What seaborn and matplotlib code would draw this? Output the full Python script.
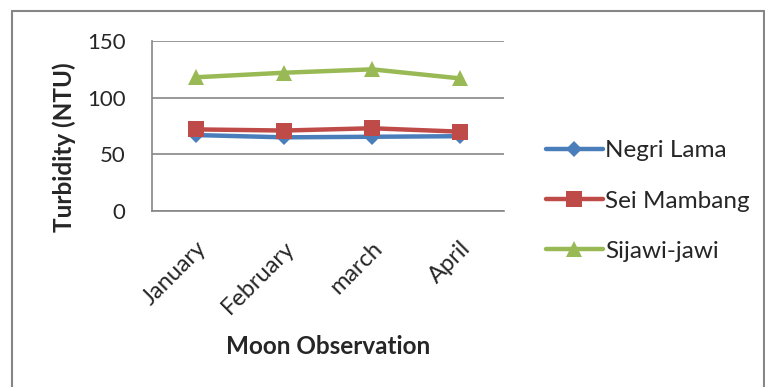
import matplotlib
matplotlib.use("Agg")
import matplotlib.pyplot as plt
import seaborn as sns
import pandas as pd
from matplotlib.lines import Line2D
from matplotlib.ticker import FixedLocator

months = ["January", "February", "march", "April"]
negri_lama = [67, 65, 65.5, 66]
sei_mambang = [72, 71, 73, 70]
sijawi_jawi = [118, 122, 125, 117]
series_names = ["Negri Lama", "Sei Mambang", "Sijawi-jawi"]
yticks = [0, 50, 100, 150]

colors = {"Negri Lama": "#4A7EBB", "Sei Mambang": "#BE4B48", "Sijawi-jawi": "#98B954"}
markers = {"Negri Lama": "D", "Sei Mambang": "s", "Sijawi-jawi": "^"}
msizes = {"Negri Lama": 8, "Sei Mambang": 11, "Sijawi-jawi": 12}

df = pd.DataFrame({
    "Month": months * 3,
    "Turbidity": negri_lama + sei_mambang + sijawi_jawi,
    "Site": [series_names[0]] * 4 + [series_names[1]] * 4 + [series_names[2]] * 4,
})

sns.set_style("white")
plt.rcParams["font.family"] = ["Lato", "DejaVu Sans"]

fig = plt.figure(figsize=(7.65, 3.87), dpi=100)
ax = fig.add_axes([152 / 765, 1 - 211 / 387, (504 - 152) / 765, (211 - 41) / 387])

for name in series_names:
    sub = df[df["Site"] == name]
    sns.lineplot(data=sub, x="Month", y="Turbidity", ax=ax, color=colors[name],
                 marker=markers[name], markersize=msizes[name], markeredgewidth=0,
                 linewidth=3.2, label=name, sort=False)

ax.set_xlim(-0.5, 3.5)
ax.set_ylim(0, 150)
ax.set_yticks(yticks)
ax.set_xticks(range(len(months)))
ax.set_xticklabels(months, rotation=45, ha="right", rotation_mode="anchor", fontsize=17)
ax.xaxis.set_minor_locator(FixedLocator([-0.5, 0.5, 1.5, 2.5, 3.5]))
ax.tick_params(axis="x", which="major", length=0, pad=19)
ax.tick_params(axis="x", which="minor", length=5, color="#868686", width=1.2, direction="out")
ax.tick_params(axis="y", length=6, color="#868686", width=1.2, direction="out", labelsize=16, pad=13)
ax.grid(axis="y", color="#868686", linewidth=1.2)
ax.set_axisbelow(True)
for s in ["top", "right"]:
    ax.spines[s].set_visible(False)
for s in ["left", "bottom"]:
    ax.spines[s].set_color("#868686")
    ax.spines[s].set_linewidth(1.2)

ax.set_ylabel("Turbidity (NTU)", fontsize=17.5, fontweight="bold")
ax.yaxis.set_label_coords((76 - 152) / (504 - 152), (211 - 147) / (211 - 41))
ax.set_xlabel("Moon Observation", fontsize=17.5, fontweight="bold")
ax.xaxis.set_label_coords(0.5, -(347 - 211) / (211 - 41))
ax.xaxis.label.set_va("center")

leg = ax.legend(loc="center left", bbox_to_anchor=(524 / 765, 1 - 201 / 387),
                bbox_transform=fig.transFigure, frameon=False, fontsize=17.5,
                handlelength=2.35, handletextpad=0.1, labelspacing=1.2)

gray = "#868686"
fig.add_artist(Line2D([12 / 765, 12 / 765], [0, 1 - 11 / 387], transform=fig.transFigure, color=gray, lw=1.5))
fig.add_artist(Line2D([12 / 765, 764 / 765], [1 - 11 / 387, 1 - 11 / 387], transform=fig.transFigure, color=gray, lw=1.5))
fig.add_artist(Line2D([764 / 765, 764 / 765], [0, 1 - 11 / 387], transform=fig.transFigure, color=gray, lw=1.5))
fig.savefig("out.png", dpi=100)
